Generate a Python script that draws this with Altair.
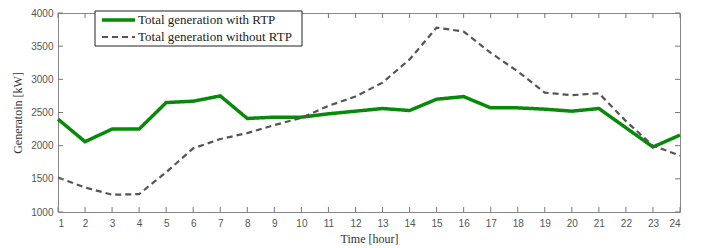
import altair as alt
import pandas as pd

hours = list(range(1, 25))
with_rtp = [2400, 2060, 2250, 2250, 2650, 2670, 2750, 2410, 2430, 2430, 2480, 2520,
            2560, 2530, 2700, 2740, 2570, 2570, 2550, 2520, 2560, 2270, 1980, 2160]
without_rtp = [1520, 1370, 1260, 1270, 1600, 1960, 2100, 2190, 2310, 2420, 2600, 2740,
               2950, 3300, 3780, 3720, 3400, 3120, 2800, 2760, 2790, 2370, 2000, 1850]
series_names = ["Total generation with RTP", "Total generation without RTP"]
series_colors = ["#078a07", "#555555"]
series_dash = [[1, 0], [6, 4]]
series_width = [3.5, 2.2]
x_ticks = list(range(1, 25))
y_ticks = [1000, 1500, 2000, 2500, 3000, 3500, 4000]

rows = []
for h, a, b in zip(hours, with_rtp, without_rtp):
    rows.append({"hour": h, "value": a, "series": series_names[0]})
    rows.append({"hour": h, "value": b, "series": series_names[1]})
df = pd.DataFrame(rows)

W, H = 622, 199
TICK = 5

xscale = alt.Scale(domain=[1, 24], nice=False)
yscale = alt.Scale(domain=[1000, 4000], nice=False)
xaxis = alt.Axis(values=x_ticks, title="Time [hour]", ticks=False, grid=False,
                 domain=False, labelPadding=6, titlePadding=5, format="d",
                 labelOverlap=False)
yaxis = alt.Axis(values=y_ticks, title="Generatoin [kW]", ticks=False, grid=False,
                 domain=False, labelPadding=5, titlePadding=6, format="d",
                 labelOverlap=False)

X = alt.X("hour:Q", scale=xscale, axis=xaxis)
Y = alt.Y("value:Q", scale=yscale, axis=yaxis)

lines = alt.Chart(df).mark_line().encode(
    x=X, y=Y,
    color=alt.Color("series:N", scale=alt.Scale(domain=series_names, range=series_colors),
                    legend=None),
    strokeDash=alt.StrokeDash("series:N", scale=alt.Scale(domain=series_names, range=series_dash),
                              legend=None),
    strokeWidth=alt.StrokeWidth("series:N", scale=alt.Scale(domain=series_names, range=series_width),
                                legend=None),
)

xt = pd.DataFrame({"hour": x_ticks})
yt = pd.DataFrame({"value": y_ticks})

bottom_ticks = alt.Chart(xt).mark_rule(color="#777", strokeWidth=1).encode(
    x=X, y=alt.value(H), y2=alt.value(H - TICK))
top_ticks = alt.Chart(xt).mark_rule(color="#777", strokeWidth=1).encode(
    x=X, y=alt.value(0), y2=alt.value(TICK))
right_ticks = alt.Chart(yt).mark_rule(color="#777", strokeWidth=1).encode(
    y=Y, x=alt.value(W), x2=alt.value(W - TICK))
left_ticks = alt.Chart(yt).mark_rule(color="#777", strokeWidth=1).encode(
    y=Y, x=alt.value(0), x2=alt.value(TICK))

# manual legend box
legend_box = alt.Chart(pd.DataFrame({"k": [0]})).mark_rect(
    fill="white", stroke="#222", strokeWidth=1).encode(
    x=alt.value(37), x2=alt.value(244), y=alt.value(-2), y2=alt.value(33))
legend_parts = [legend_box]
for i, name in enumerate(series_names):
    ypos = 7 + 17 * i
    one = pd.DataFrame({"series": [name]})
    legend_parts.append(
        alt.Chart(one).mark_rule(color=series_colors[i], strokeWidth=series_width[i],
                                 strokeDash=series_dash[i]).encode(
            x=alt.value(44), x2=alt.value(77), y=alt.value(ypos)))
    legend_parts.append(
        alt.Chart(one).mark_text(align="left", baseline="middle", font="Liberation Serif",
                                 fontSize=13, color="#222").encode(
            text="series:N", x=alt.value(80), y=alt.value(ypos)))

chart = alt.layer(lines, bottom_ticks, top_ticks, right_ticks, left_ticks,
                  *legend_parts).properties(
    width=W, height=H,
    autosize=alt.AutoSizeParams(type="none"),
    padding={"left": 50, "top": 5, "right": 13, "bottom": 36},
).configure_view(
    stroke="#888", strokeWidth=1
).configure_axis(
    labelFont="Liberation Sans", labelFontSize=10, labelColor="#555",
    titleFont="Liberation Serif", titleFontSize=12, titleColor="#333",
    titleFontWeight="normal", labelOverlap=False,
)

chart.save("out.html", embed_options={"renderer": "svg", "actions": False})
